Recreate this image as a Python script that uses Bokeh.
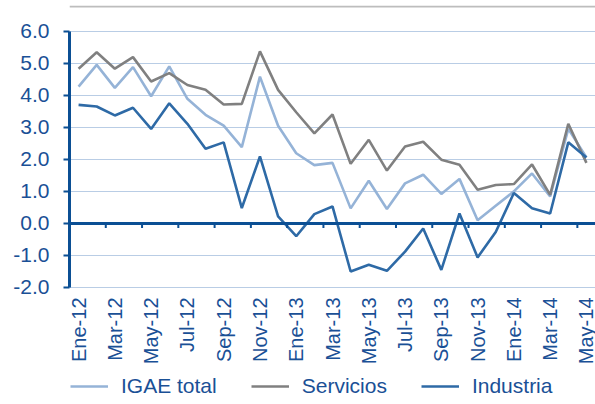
import math
from bokeh.plotting import figure
from bokeh.models import (Range1d, FixedTicker, Span, Legend, LegendItem,
                          ColumnDataSource, NumeralTickFormatter)
from bokeh.core.properties import value
from bokeh.embed import file_html
from bokeh.resources import INLINE

# ---------------- data ----------------
months = ["Ene-12", "Feb-12", "Mar-12", "Abr-12", "May-12", "Jun-12", "Jul-12", "Ago-12",
          "Sep-12", "Oct-12", "Nov-12", "Dic-12", "Ene-13", "Feb-13", "Mar-13", "Abr-13",
          "May-13", "Jun-13", "Jul-13", "Ago-13", "Sep-13", "Oct-13", "Nov-13", "Dic-13",
          "Ene-14", "Feb-14", "Mar-14", "Abr-14", "May-14"]

igae_total = [4.27, 4.95, 4.23, 4.88, 3.97, 4.90, 3.89, 3.39, 3.05, 2.38, 4.58, 3.05,
              2.19, 1.82, 1.89, 0.47, 1.33, 0.45, 1.25, 1.52, 0.92, 1.39, 0.10, 0.55,
              1.00, 1.56, 0.84, 2.95, 2.06]

servicios = [4.83, 5.34, 4.83, 5.19, 4.43, 4.69, 4.32, 4.17, 3.71, 3.73, 5.37, 4.17,
             3.47, 2.81, 3.40, 1.86, 2.61, 1.65, 2.40, 2.55, 1.99, 1.83, 1.05, 1.20,
             1.23, 1.84, 0.89, 3.11, 1.89]

industria = [3.70, 3.65, 3.37, 3.61, 2.95, 3.75, 3.11, 2.33, 2.53, 0.48, 2.09, 0.22,
             -0.40, 0.29, 0.53, -1.50, -1.29, -1.48, -0.88, -0.16, -1.45, 0.31, -1.06, -0.27,
             0.95, 0.47, 0.31, 2.53, 2.06]

series_names = ["IGAE total", "Servicios", "Industria"]
y_ticks = [-2, -1, 0, 1, 2, 3, 4, 5, 6]

# ---------------- styles ----------------
TEXT = "#1a5096"
AXIS = "#0b4f94"
GRID = "#b9cde5"
C_IGAE = "#95b3d7"
C_SERV = "#808080"
C_IND = "#2e6aa6"
FONT = "Liberation Sans"

Y_MIN, Y_MAX = -2, 6
# frame is extended above/below the value range to host the top rule, labels and legend
FRAME_LO, FRAME_HI = -5.652, 6.802

x = list(range(len(months)))
src = ColumnDataSource(dict(x=x, igae=igae_total, serv=servicios, ind=industria))

p = figure(frame_width=526, frame_height=399,
           x_range=Range1d(-0.5, len(months) - 0.5), y_range=Range1d(FRAME_LO, FRAME_HI),
           output_backend="svg", toolbar_location=None,
           min_border_left=69, min_border_right=0, min_border_top=5, min_border_bottom=0)
p.outline_line_color = None
p.background_fill_color = "white"
p.xaxis.visible = False

# y axis
p.yaxis.bounds = (Y_MIN, Y_MAX)
p.yaxis.ticker = FixedTicker(ticks=y_ticks)
p.yaxis.formatter = NumeralTickFormatter(format="0.0")
p.yaxis.axis_line_color = AXIS
p.yaxis.axis_line_width = 3
p.yaxis.major_tick_line_color = AXIS
p.yaxis.major_tick_line_width = 2
p.yaxis.major_tick_out = 6
p.yaxis.major_tick_in = 0
p.yaxis.minor_tick_line_color = None
p.yaxis.major_label_text_color = TEXT
p.yaxis.major_label_text_font = FONT
p.yaxis.major_label_text_font_size = "21px"
p.yaxis.major_label_standoff = 14

# grid
p.xgrid.grid_line_color = None
p.ygrid.ticker = FixedTicker(ticks=y_ticks)
p.ygrid.grid_line_color = GRID
p.ygrid.grid_line_width = 1

# grey rule across the top
p.add_layout(Span(location=FRAME_HI - 0.03, dimension="width",
                  line_color="#bdbdbd", line_width=2))

# lines
r_igae = p.line("x", "igae", source=src, line_color=C_IGAE, line_width=2.6)
r_serv = p.line("x", "serv", source=src, line_color=C_SERV, line_width=2.6)
r_ind = p.line("x", "ind", source=src, line_color=C_IND, line_width=2.6)

# zero line with category-boundary ticks
p.add_layout(Span(location=0, dimension="width", line_color=AXIS, line_width=3))
bx = [i + 1.5 for i in x[:-1:2]][:14]
p.segment(x0=bx, y0=[0] * len(bx), x1=bx, y1=[-0.14] * len(bx),
          line_color=AXIS, line_width=2)

# category labels (every other month), rotated
lx = x[::2]
p.text(x=lx, y=[Y_MIN] * len(lx), text=[months[i] for i in lx],
       angle=math.pi / 2, y_offset=10, text_align="right", text_baseline="middle",
       text_font=value(FONT), text_font_size="20px", text_color=TEXT)

legend = Legend(items=[LegendItem(label=n, renderers=[r])
                       for n, r in zip(series_names, (r_igae, r_serv, r_ind))],
                orientation="horizontal", location=(1, 6),
                label_text_font=FONT, label_text_font_size="21px", label_text_color=TEXT,
                glyph_width=38, label_standoff=13, spacing=34,
                border_line_color=None, background_fill_alpha=0,
                margin=0, padding=0)
p.add_layout(legend, "center")

open("out.html", "w").write(file_html(p, INLINE))
